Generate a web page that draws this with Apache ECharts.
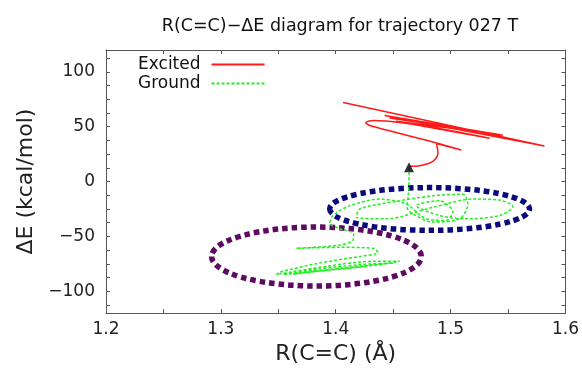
<!DOCTYPE html>
<html>
<head>
<meta charset="utf-8">
<script src="https://cdn.jsdelivr.net/npm/echarts@6/dist/echarts.min.js"></script>
<style>
  html, body { margin: 0; padding: 0; background: #fff; }
  #main { width: 582px; height: 370px; }
</style>
</head>
<body>
<div id="main"></div>
<script>
// excited state trajectory (red)
const excitedR = [1.4064, 1.5817, 1.4426, 1.5455, 1.447, 1.5412, 1.4525, 1.534, 1.4325, 1.4261, 1.431, 1.4861, 1.5093, 1.4876, 1.489, 1.4846, 1.473, 1.4643];
const excitedE = [72.2, 32.4, 60.2, 42.3, 58.0, 43.2, 55.0, 39.5, 55.7, 53.6, 50.6, 35.7, 28.8, 34.8, 25.8, 18.4, 14.4, 13.9];

// ground state trajectory (green)
const groundR = [1.4638, 1.4638, 1.4629, 1.462, 1.4672, 1.4846, 1.5078, 1.515, 1.5107, 1.4846, 1.4557, 1.4209, 1.4179, 1.444, 1.4846, 1.5194, 1.5426, 1.5542, 1.5426, 1.5136, 1.4904, 1.4701, 1.4904, 1.502, 1.4962, 1.4788, 1.4614, 1.4382, 1.4122, 1.3977, 1.3948, 1.4035, 1.4156, 1.4151, 1.4035, 1.3658, 1.4035, 1.4325, 1.4368, 1.4209, 1.3832, 1.3513, 1.3484, 1.3919, 1.4325, 1.4557, 1.4382, 1.3919, 1.3542, 1.3861, 1.4209, 1.4499, 1.4151, 1.3745, 1.3629, 1.3977, 1.4267, 1.4064, 1.3774];
const groundE = [12.97, 0.4, -14.5, -23.5, -29.5, -37.0, -34.0, -20.5, -11.6, -13.0, -17.5, -25.0, -32.5, -34.0, -23.5, -16.0, -16.9, -22.9, -31.0, -34.0, -31.0, -22.0, -17.5, -28.0, -35.5, -34.0, -20.5, -16.0, -22.0, -31.0, -37.9, -43.0, -47.4, -53.4, -57.9, -60.9, -60.0, -60.9, -64.8, -68.3, -74.9, -82.7, -84.8, -77.3, -72.8, -72.8, -75.8, -80.9, -84.8, -79.7, -75.8, -74.3, -77.9, -82.7, -84.5, -80.3, -77.3, -79.7, -82.1];

// hopping point
const hopPoint = [1.4638, 12.97];

// highlighted regions: centre R, centre E, half width, half height
const regionBlue = [1.4817, -25.0, 0.087, 19.5];
const regionPurple = [1.3832, -68.4, 0.0913, 26.9];

// ticks and labels
const xLabels = [1.2, 1.3, 1.4, 1.5, 1.6];
const xTicks = [1.2, 1.25, 1.3, 1.35, 1.4, 1.45, 1.5, 1.55, 1.6];
const yLabels = [-100, -50, 0, 50, 100];
const yTicks = [-112.5, -100, -87.5, -75, -62.5, -50, -37.5, -25, -12.5, 0, 12.5, 25, 37.5, 50, 62.5, 75, 87.5, 100, 112.5];

const FONT = "DejaVu Sans";

function pairs(xs, ys) {
  return xs.map((x, i) => [x, ys[i]]);
}

function ellipseItem(params, api) {
  const c = api.coord([api.value(0), api.value(1)]);
  const s = api.size([api.value(2), api.value(3)]);
  const a = s[0], b = s[1];
  const x = c[0], y = c[1];
  const d = `M ${x - a} ${y} A ${a} ${b} 0 1 0 ${x + a} ${y} A ${a} ${b} 0 1 0 ${x - a} ${y} Z`;
  return {
    type: "path",
    shape: { pathData: d },
    style: {
      fill: "none",
      stroke: api.visual("color"),
      lineWidth: 5.5,
      lineDash: [5.5, 4],
    },
  };
}

function axisBase(kind, show) {
  const isX = kind === "x";
  return {
    type: "value",
    min: isX ? 1.2 : -120,
    max: isX ? 1.6 : 120,
    axisLine: { show: true, onZero: false, lineStyle: { color: "#555", width: 1 } },
    axisTick: {
      show: true,
      inside: true,
      length: 4,
      customValues: isX ? xTicks : yTicks,
      lineStyle: { color: "#555" },
    },
    axisLabel: {
      show: show,
      customValues: isX ? xLabels : yLabels,
      formatter: (v) => String(v).replace("-", "\u2212"),
      fontFamily: FONT,
      fontSize: 17,
      color: "#222",
      margin: isX ? 8 : 11,
    },
    splitLine: { show: false },
  };
}

const chart = echarts.init(document.getElementById("main"));

chart.setOption({
  animation: false,
  backgroundColor: "#fff",
  title: {
    text: "R(C=C)\u2212\u0394E diagram for trajectory 027 T",
    left: 335,
    textAlign: "center",
    top: 12,
    textStyle: { fontFamily: FONT, fontSize: 17.5, fontWeight: "normal", color: "#111" },
  },
  legend: {
    data: ["Excited", "Ground"],
    orient: "vertical",
    left: 133,
    top: 51,
    align: "right",
    itemWidth: 53,
    itemHeight: 16,
    itemGap: 2,
    itemStyle: { opacity: 0 },
    textStyle: { fontFamily: FONT, fontSize: 17, color: "#111", padding: [0, 6, 0, 0] },
  },
  grid: { left: 106, right: 16, top: 50, bottom: 53 },
  xAxis: [
    Object.assign(axisBase("x", true), {
      position: "bottom",
      name: "R(C=C) (\u00C5)",
      nameLocation: "middle",
      nameGap: 24,
      nameTextStyle: { fontFamily: FONT, fontSize: 22, color: "#222" },
    }),
    Object.assign(axisBase("x", false), { position: "top" }),
  ],
  yAxis: [
    Object.assign(axisBase("y", true), {
      position: "left",
      name: "\u0394E (kcal/mol)",
      nameLocation: "middle",
      nameGap: 68,
      nameTextStyle: { fontFamily: FONT, fontSize: 22, color: "#222" },
    }),
    Object.assign(axisBase("y", false), { position: "right" }),
  ],
  series: [
    {
      type: "custom",
      name: "regions",
      renderItem: ellipseItem,
      data: [
        { value: regionPurple, itemStyle: { color: "#5e0a62" } },
        { value: regionBlue, itemStyle: { color: "#0a0a7c" } },
      ],
      silent: true,
      z: 1,
    },
    {
      name: "Excited",
      type: "line",
      data: pairs(excitedR, excitedE),
      symbol: "none",
      smooth: 0.3,
      color: "#ff1a1a",
      lineStyle: { color: "#ff1a1a", width: 1.5 },
      z: 3,
    },
    {
      name: "Ground",
      type: "line",
      data: pairs(groundR, groundE),
      symbol: "none",
      smooth: 0.3,
      color: "#22ee22",
      lineStyle: { color: "#22ee22", width: 1.5, type: [3, 2] },
      z: 3,
    },
    {
      name: "hop",
      type: "scatter",
      data: [hopPoint],
      symbol: "triangle",
      symbolSize: 10,
      itemStyle: { color: "#000" },
      z: 4,
    },
  ],
});
</script>
</body>
</html>
